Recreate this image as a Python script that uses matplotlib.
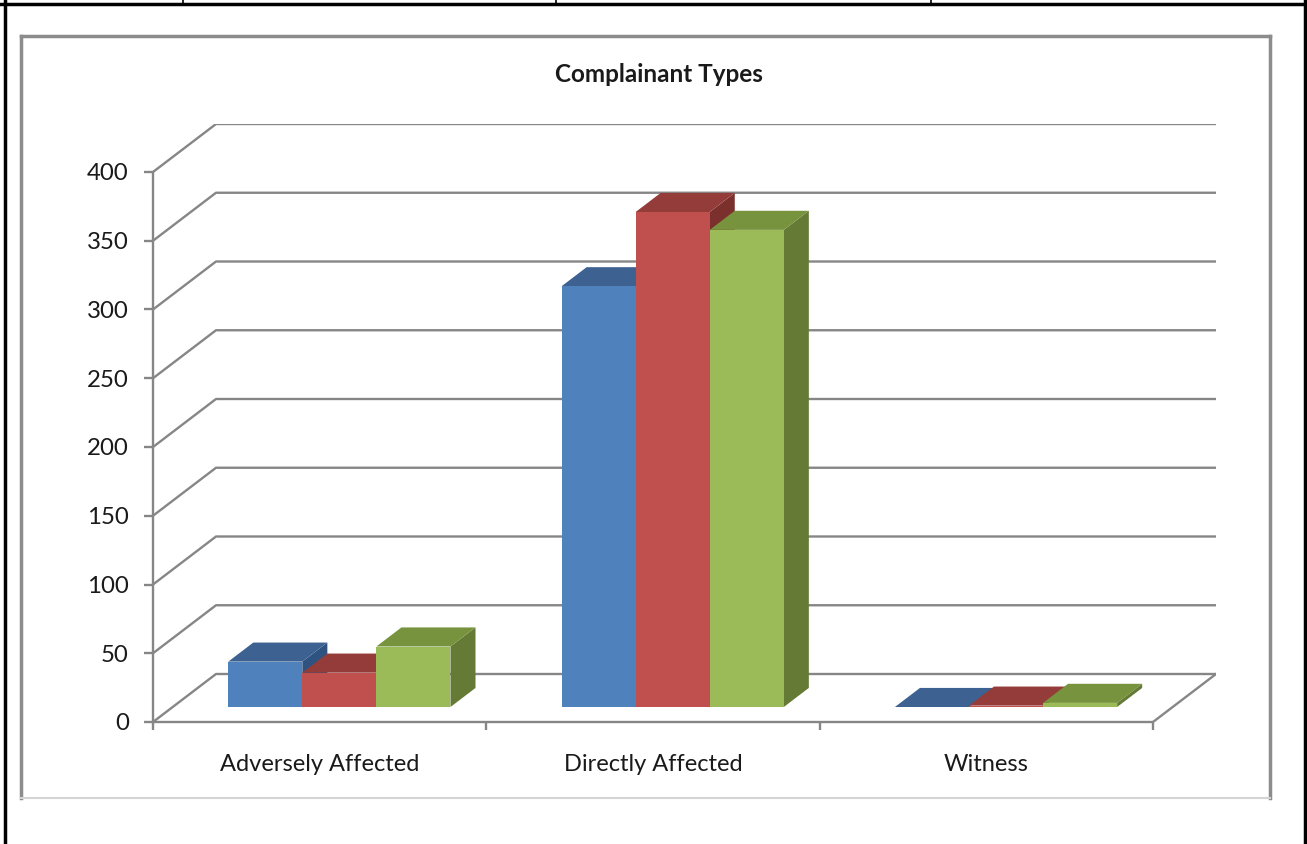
import numpy as np
import matplotlib
matplotlib.use('Agg')
import matplotlib.pyplot as plt
from matplotlib.patches import Polygon
from matplotlib.lines import Line2D

# 데이터
categories = ['Adversely Affected', 'Directly Affected', 'Witness']
series_blue = [33, 306, 0]
series_red = [25, 360, 1]
series_green = [44, 347, 3]
y_ticks = [0, 50, 100, 150, 200, 250, 300, 350, 400]

front_colors = ['#4F81BD', '#C0504D', '#9BBB59']
top_colors = ['#3D6291', '#943C3A', '#77933D']
side_colors = ['#2F5380', '#7B302E', '#647A35']
grid_color = '#868686'

plt.rcParams['font.family'] = ['Lato', 'DejaVu Sans']

W, H = 1307, 844
fig = plt.figure(figsize=(W / 100, H / 100), dpi=100)

# 3D 깊이 (데이터 단위)
DX = 63 / 333.3
DY = 48 / 1.375
F0, F1 = 0.3125, 0.71
bar_w = 1 / 4.5
gap = 0.75 * bar_w

ax = fig.add_axes([153 / W, (H - 722) / H, (1216 - 153) / W, (722 - 124) / H])
ax.set_xlim(0, 3 + DX)
ax.set_ylim(0, 400 + DY)
ax.patch.set_alpha(0)

for s in ['top', 'right']:
    ax.spines[s].set_visible(False)
ax.spines['left'].set_bounds(0, 400)
ax.spines['bottom'].set_bounds(0, 3)
for s in ['left', 'bottom']:
    ax.spines[s].set_color(grid_color)
    ax.spines[s].set_linewidth(1.7)
    ax.spines[s].set_zorder(2)

ax.set_yticks(y_ticks)
ax.set_yticklabels([str(v) for v in y_ticks])
ax.tick_params(axis='y', direction='out', length=6.5, width=1.7, color=grid_color,
               pad=11, labelsize=17.3, labelcolor='#1a1a1a')
ax.set_xticks([0, 1, 2, 3])
ax.set_xticklabels([])
ax.tick_params(axis='x', which='major', direction='out', length=6, width=1.7, color=grid_color)
ax.set_xticks([0.5, 1.5, 2.5], minor=True)
ax.set_xticklabels(categories, minor=True)
ax.tick_params(axis='x', which='minor', length=0, pad=23, labelsize=17, labelcolor='#1a1a1a')

# 벽 격자선
for v in y_ticks:
    ax.plot([0, DX, 3 + DX], [v, v + DY, v + DY], color=grid_color, lw=1.7, zorder=1,
            solid_capstyle='butt')
ax.plot([3, 3 + DX], [0, DY], color=grid_color, lw=1.7, zorder=1)

# 막대
series = [series_blue, series_red, series_green]
z = 3
for i in range(len(categories)):
    for j, vals in enumerate(series):
        v = vals[i]
        xl = i + gap + j * bar_w + F0 * DX
        yb = F0 * DY
        top = yb + v
        dd = F1 - F0
        side = Polygon([(xl + bar_w, yb), (xl + bar_w, top),
                        (xl + bar_w + dd * DX, top + dd * DY),
                        (xl + bar_w + dd * DX, yb + dd * DY)],
                       closed=True, facecolor=side_colors[j], edgecolor='none', zorder=z)
        ax.add_patch(side)
        topf = Polygon([(xl, top), (xl + bar_w, top),
                        (xl + bar_w + dd * DX, top + dd * DY),
                        (xl + dd * DX, top + dd * DY)],
                       closed=True, facecolor=top_colors[j], edgecolor='none', zorder=z + 1)
        ax.add_patch(topf)
        ax.bar(xl, v, width=bar_w, bottom=yb, align='edge', color=front_colors[j],
               edgecolor='none', zorder=z + 2)
        z += 3

fig.text(659 / W, 1 - 75 / H, 'Complainant Types', ha='center', va='center',
         fontsize=17.5, fontweight='bold', color='#1a1a1a')

# 차트 테두리
fig.add_artist(Line2D([21 / W, 1270 / W], [1 - 36 / H, 1 - 36 / H], color='#8c8c8c', lw=2.5))
fig.add_artist(Line2D([21 / W, 21 / W], [1 - 36 / H, 1 - 798 / H], color='#8c8c8c', lw=2.5))
fig.add_artist(Line2D([1270 / W, 1270 / W], [1 - 36 / H, 1 - 798 / H], color='#8c8c8c', lw=2.5))
fig.add_artist(Line2D([21 / W, 1270 / W], [1 - 798 / H, 1 - 798 / H], color='#d4d4d4', lw=1.5))

# 페이지 표 선
fig.add_artist(Line2D([0, 1], [1 - 3.5 / H, 1 - 3.5 / H], color='black', lw=2.5))
fig.add_artist(Line2D([4.5 / W, 4.5 / W], [0, 1], color='black', lw=2.5))
fig.add_artist(Line2D([1305 / W, 1305 / W], [0, 1], color='black', lw=2.5))
for xp in [183, 556, 931]:
    fig.add_artist(Line2D([xp / W, xp / W], [1 - 4 / H, 1], color='black', lw=1.2))

fig.savefig('out.png', dpi=100)
